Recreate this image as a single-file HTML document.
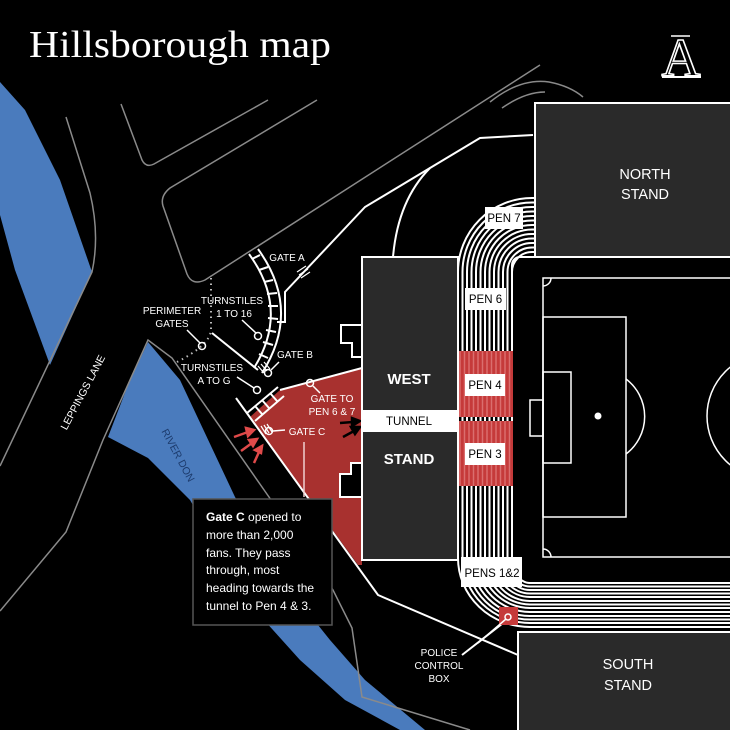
<!DOCTYPE html>
<html><head><meta charset="utf-8"><style>
html,body{margin:0;padding:0;background:#000;}
svg{display:block}
.s{font-family:"Liberation Sans",sans-serif;}
</style></head><body>
<svg width="730" height="730" viewBox="0 0 730 730" xmlns="http://www.w3.org/2000/svg">
<rect width="730" height="730" fill="#000"/>

<polygon points="0,82 25,110 60,180 92,272 50,365 15,270 0,215" fill="#4a7bbd"/>
<polygon points="148,342 180,380 235,497 290,590 330,640 365,680 425,730 400,730 345,700 300,660 255,610 190,500 148,458 108,437 128,385" fill="#4a7bbd"/>

<g fill="none" stroke="#8a8a8a" stroke-width="1.5">
<path d="M66,117 L90,193 Q100,235 92,272 L0,466"/>
<path d="M0,611 L66,532 L103,440 L148,340 L172,358 L269,497 L333,590 L352,628 L362,697 L470,730"/>
<path d="M121,104 L142,160 Q146,168 154,164 L268,100"/>
<path d="M317,100 L170,188 Q160,196 163,206 L187,274 Q192,286 205,280 L540,65"/>
<path d="M490,102 Q520,78 549,82 Q570,86 583,97"/>
<path d="M502,108 Q525,92 545,92"/>
</g>

<polygon points="280,390 362,368 362,565 358,565 250,417" fill="#a8312f"/>
<path d="M362,325 L341,325 L341,343 L352,343 L352,357 L362,357" fill="#000" stroke="#fff" stroke-width="2"/>
<path d="M362,463 L351,463 L351,474 L340,474 L340,497 L362,497" fill="#000" stroke="#fff" stroke-width="2"/>

<g fill="none" stroke="#fff" stroke-width="2">
<path d="M533,135 L480,138 L430,168 L365,207 L285,292 L285,322 L277,322"/>
<path d="M430,168 Q398,200 393,257"/>
<path d="M236,398 L378,595 L518,655"/>
<path d="M280,390 L362,368"/>
<path d="M212,333 L258,370"/>
<path d="M462,655 L507,620"/>
<line x1="304" y1="442" x2="304" y2="497" stroke="#f0d0d0" stroke-width="1.5"/>
</g>

<g fill="none" stroke="#fff" stroke-width="2">
<path d="M249,254 Q290,310 254,368"/>
<path d="M258,249 Q302,310 262,373"/>
<path d="M252,259 L260,255 M259,270 L268,267 M264,282 L273,280 M267,294 L277,293 M268,306 L278,306 M268,318 L278,319 M266,330 L276,332 M263,342 L273,345 M259,354 L268,358"/>
</g>
<g fill="none" stroke="#fff" stroke-width="2">
<path d="M247,413 L278,387"/>
<path d="M255,421 L284,396"/>
<path d="M255,406 L262,414 M262,400 L269,408 M270,393 L277,401"/>
</g>
<g stroke="#fff" stroke-width="1.2">
<path d="M297,272 L306,266 M299,275 L308,269 M301,278 L310,272"/>
<path d="M258,366 L264,373 M261,364 L267,371 M264,362 L270,369"/>
<path d="M261,426 L266,434 M264,425 L269,433 M267,424 L272,432"/>
</g>
<path d="M211,278 L211,330 Q210,345 177,362" fill="none" stroke="#bbb" stroke-width="2" stroke-dasharray="1.5,4"/>

<g fill="none" stroke="#fff" stroke-width="1.5">
<path d="M187,330 L200,343"/><circle cx="202" cy="346" r="3.5"/>
<path d="M242,320 L256,333"/><circle cx="258" cy="336" r="3.5"/>
<path d="M279,362 L271,370"/><circle cx="268" cy="373" r="3.5"/>
<path d="M237,377 L254,388"/><circle cx="257" cy="390" r="3.5"/>
<path d="M313,386 L320,393"/><circle cx="310" cy="383" r="3.5"/>
<path d="M273,431 L285,430"/><circle cx="269" cy="431" r="3.5"/>
</g>

<g stroke="#e04a4a" stroke-width="2.5" fill="#e04a4a">
<line x1="234" y1="437" x2="248" y2="432"/><polygon points="254,430 246,428 248,436"/>
<line x1="241" y1="451" x2="252" y2="443"/><polygon points="257,439 249,440 253,446"/>
<line x1="254" y1="463" x2="259" y2="452"/><polygon points="262,446 255,450 261,453"/>
</g>
<g stroke="#000" stroke-width="2.5" fill="#000">
<line x1="340" y1="423" x2="353" y2="422"/><polygon points="360,421 352,418 352,426"/>
<line x1="343" y1="437" x2="354" y2="431"/><polygon points="360,427 351,427 355,434"/>
</g>

<g fill="none" stroke="#fff" stroke-width="2">
<path d="M458,558 L458,272 A74,74 0 0 1 532,198 L536,198"/>
<path d="M462.5,558 L462.5,272 A69.5,69.5 0 0 1 532,202.5 L536,202.5"/>
<path d="M467,558 L467,272 A65,65 0 0 1 532,207 L536,207"/>
<path d="M471.5,558 L471.5,272 A60.5,60.5 0 0 1 532,211.5 L536,211.5"/>
<path d="M476,558 L476,272 A56,56 0 0 1 532,216 L536,216"/>
<path d="M480.5,558 L480.5,272 A51.5,51.5 0 0 1 532,220.5 L536,220.5"/>
<path d="M485,558 L485,272 A47,47 0 0 1 532,225 L536,225"/>
<path d="M489.5,558 L489.5,272 A42.5,42.5 0 0 1 532,229.5 L536,229.5"/>
<path d="M494,558 L494,272 A38,38 0 0 1 532,234 L536,234"/>
<path d="M498.5,558 L498.5,272 A33.5,33.5 0 0 1 532,238.5 L536,238.5"/>
<path d="M503,558 L503,272 A29,29 0 0 1 532,243 L536,243"/>
<path d="M507.5,558 L507.5,272 A24.5,24.5 0 0 1 532,247.5 L536,247.5"/>
<path d="M512,558 L512,272 A20,20 0 0 1 532,252 L536,252 M512,272 L512,265 A8,8 0 0 1 520,257 L536,257"/>
<path d="M458,558 A72,69 0 0 0 530,627 L730,627"/>
<path d="M462.5,558 A67.5,65 0 0 0 530,623 L730,623"/>
<path d="M467,558 A63,61.5 0 0 0 530,619.5 L730,619.5"/>
<path d="M471.5,558 A58.5,58 0 0 0 530,616 L730,616"/>
<path d="M476,558 A54,54 0 0 0 530,612 L730,612"/>
<path d="M480.5,558 A49.5,50 0 0 0 530,608 L730,608"/>
<path d="M485,558 A45,46.5 0 0 0 530,604.5 L730,604.5"/>
<path d="M489.5,558 A40.5,43 0 0 0 530,601 L730,601"/>
<path d="M494,558 A36,39 0 0 0 530,597 L730,597"/>
<path d="M498.5,558 A31.5,35.5 0 0 0 530,593.5 L730,593.5"/>
<path d="M503,558 A27,32 0 0 0 530,590 L730,590"/>
<path d="M507.5,558 A22.5,28.5 0 0 0 530,586.5 L730,586.5"/>
<path d="M512,558 A18,25 0 0 0 530,583 L730,583"/>
</g>
<rect x="457" y="351" width="56" height="66" fill="#c53a3a"/>
<rect x="457" y="421" width="56" height="65" fill="#c53a3a"/>
<g stroke="#e07b7b" stroke-width="1.5" opacity="0.8">
<path d="M460,351V417M464.5,351V417M469,351V417M473.5,351V417M478,351V417M482.5,351V417M487,351V417M491.5,351V417M496,351V417M500.5,351V417M505,351V417M509.5,351V417"/>
<path d="M460,421V486M464.5,421V486M469,421V486M473.5,421V486M478,421V486M482.5,421V486M487,421V486M491.5,421V486M496,421V486M500.5,421V486M505,421V486M509.5,421V486"/>
</g>

<g fill="none" stroke="#fff" stroke-width="1.5">
<rect x="543" y="278" width="200" height="279"/>
<rect x="543" y="317" width="83" height="200"/>
<rect x="543" y="372" width="28" height="91"/>
<rect x="530" y="400" width="13" height="36"/>
<path d="M626,379 A47,47 0 0 1 626,454"/>
<circle cx="770" cy="416" r="63"/>
<path d="M543,286 A8,8 0 0 0 551,278"/>
<path d="M543,549 A8,8 0 0 1 551,557"/>
</g>
<circle cx="598" cy="416" r="3.5" fill="#fff"/>

<rect x="535" y="103" width="200" height="154" fill="#2a2a2a" stroke="#fff" stroke-width="2"/>
<rect x="518" y="632" width="215" height="100" fill="#2a2a2a" stroke="#fff" stroke-width="2"/>
<rect x="362" y="257" width="96" height="303" fill="#2a2a2a" stroke="#fff" stroke-width="2"/>
<rect x="361" y="410" width="98" height="22" fill="#fff"/>

<g fill="#fff">
<rect x="485" y="207" width="38" height="22"/>
<rect x="465" y="288" width="41" height="22"/>
<rect x="465" y="374" width="40" height="22"/>
<rect x="465" y="443" width="40" height="22"/>
<rect x="461" y="557" width="61" height="30"/>
</g>
<g class="s" fill="#000" font-size="11.5" text-anchor="middle">
<text x="504" y="222">PEN 7</text>
<text x="485.5" y="303">PEN 6</text>
<text x="485" y="389">PEN 4</text>
<text x="485" y="458">PEN 3</text>
<text x="492" y="577">PENS 1&amp;2</text>
<text x="409" y="425">TUNNEL</text>
</g>

<rect x="499" y="607" width="19" height="18" fill="#c53a3a"/>
<circle cx="508" cy="617" r="3" fill="none" stroke="#fff" stroke-width="1.5"/>
<line x1="506" y1="619" x2="478" y2="643" stroke="#fff" stroke-width="1.5"/>

<g class="s" fill="#fff" text-anchor="middle">
<text x="645" y="179" font-size="14.5">NORTH</text>
<text x="645" y="199" font-size="14.5">STAND</text>
<text x="628" y="669" font-size="14.5">SOUTH</text>
<text x="628" y="690" font-size="14.5">STAND</text>
<text x="409" y="384" font-size="15" font-weight="bold">WEST</text>
<text x="409" y="464" font-size="15" font-weight="bold">STAND</text>
</g>

<g class="s" fill="#fff" font-size="10" text-anchor="middle">
<text x="287" y="261">GATE A</text>
<text x="232" y="304">TURNSTILES</text>
<text x="234" y="317">1 TO 16</text>
<text x="172" y="314">PERIMETER</text>
<text x="172" y="327">GATES</text>
<text x="295" y="358">GATE B</text>
<text x="212" y="371">TURNSTILES</text>
<text x="214" y="384">A TO G</text>
<text x="332" y="402">GATE TO</text>
<text x="332" y="415">PEN 6 &amp; 7</text>
<text x="307" y="435">GATE C</text>
<text x="439" y="656">POLICE</text>
<text x="439" y="669">CONTROL</text>
<text x="439" y="682">BOX</text>
</g>
<text class="s" x="0" y="0" font-size="10.5" fill="#fff" text-anchor="middle" transform="translate(86,394) rotate(-62)">LEPPINGS LANE</text>
<text class="s" x="0" y="0" font-size="10.5" fill="#1d3c6e" text-anchor="middle" transform="translate(175,457) rotate(62)">RIVER DON</text>

<rect x="193" y="499" width="139" height="126" fill="#000" stroke="#555" stroke-width="1.5"/>
<g class="s" fill="#fff" font-size="12">
<text x="206" y="521"><tspan font-weight="bold">Gate C</tspan> opened to</text>
<text x="206" y="539">more than 2,000</text>
<text x="206" y="557">fans. They pass</text>
<text x="206" y="574">through, most</text>
<text x="206" y="592">heading towards the</text>
<text x="206" y="610">tunnel to Pen 4 &amp; 3.</text>
</g>

<text x="29" y="57" style="font-family:'Liberation Serif',serif" font-size="38" fill="#fff" textLength="302" lengthAdjust="spacingAndGlyphs">Hillsborough map</text>
<text x="681" y="76" style="font-family:'Liberation Serif',serif" font-size="54" fill="none" stroke="#fff" stroke-width="1.6" text-anchor="middle">A</text>
<line x1="662" y1="77" x2="701" y2="77" stroke="#fff" stroke-width="2"/>
<line x1="671" y1="36" x2="690" y2="36" stroke="#fff" stroke-width="1.5"/>
</svg>
</body></html>
